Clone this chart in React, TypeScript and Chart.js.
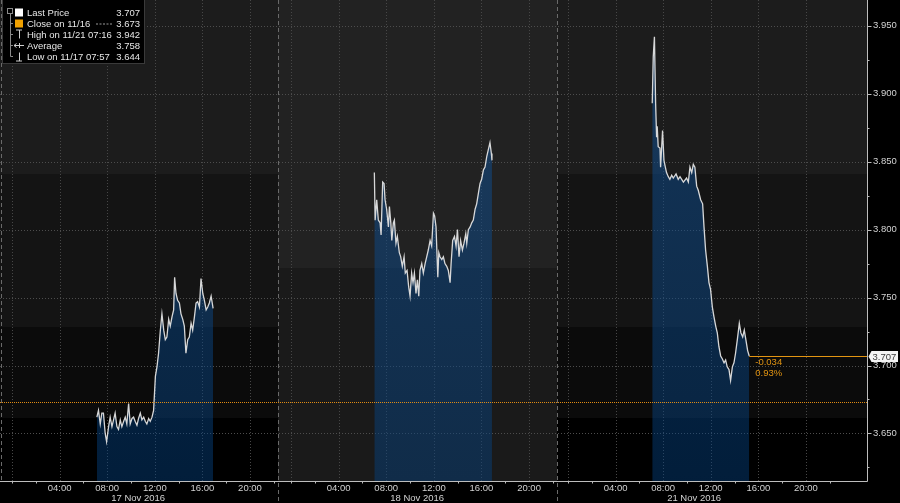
import React, { useEffect, useRef } from 'react';
import { Chart, registerables } from 'chart.js';

Chart.register(...registerables);

const FONT = '"Liberation Sans", Arial, sans-serif';

// ---- axis / session data ----
const dayLabels = ['17 Nov 2016', '18 Nov 2016', '21 Nov 2016'];
const dayStarts = [0, 23.45, 46.72]; // midnight of each session on the compressed hour axis
const sessionBreaks = [22.35, 45.8];
const hourTicks = [4, 8, 12, 16, 20];
const hourGrid = [0, 4, 8, 12, 16, 20];
const hourMinorTicks = [0, 2, 6, 10, 14, 18, 22];
const yTickValues = [3.65, 3.7, 3.75, 3.8, 3.85, 3.9, 3.95];
const dateLabelHour = 10.6;

const X_MIN = -1.008;
const X_MAX = 71.85;
const Y_MIN = 3.615;
const Y_MAX = 3.969;

// ---- series ----
const day1Times = ['07:08','07:16','07:25','07:33','07:41','07:50','07:57','08:07','08:15','08:24','08:32','08:40','08:49','08:57','09:06','09:14','09:23','09:31','09:39','09:48','09:56','10:05','10:13','10:21','10:30','10:38','10:47','10:55','11:04','11:12','11:20','11:29','11:37','11:46','11:54','12:03','12:11','12:19','12:28','12:36','12:45','12:53','13:01','13:10','13:18','13:27','13:35','13:40','13:47','13:55','14:04','14:12','14:21','14:29','14:37','14:46','14:54','15:03','15:11','15:20','15:28','15:36','15:45','15:53','16:02','16:10','16:19','16:27','16:35','16:44','16:54'];
const day1Values = [3.662,3.667,3.657,3.665,3.665,3.650,3.644,3.655,3.662,3.655,3.660,3.665,3.655,3.653,3.660,3.655,3.659,3.662,3.657,3.672,3.657,3.661,3.662,3.659,3.656,3.661,3.665,3.660,3.662,3.659,3.657,3.661,3.659,3.662,3.667,3.692,3.699,3.709,3.726,3.738,3.726,3.719,3.721,3.734,3.729,3.736,3.741,3.765,3.753,3.748,3.746,3.738,3.734,3.729,3.709,3.719,3.721,3.731,3.726,3.736,3.746,3.747,3.743,3.764,3.753,3.748,3.741,3.743,3.746,3.751,3.742];

const day2Times = ['07:00','07:04','07:07','07:12','07:20','07:29','07:34','07:42','07:49','07:54','08:02','08:11','08:16','08:23','08:28','08:36','08:41','08:49','08:56','09:06','09:13','09:21','09:30','09:36','09:45','09:53','10:00','10:08','10:15','10:22','10:30','10:37','10:44','10:50','10:59','11:07','11:16','11:24','11:32','11:41','11:49','11:58','12:04','12:11','12:20','12:25','12:31','12:40','12:48','12:56','13:05','13:13','13:22','13:27','13:35','13:44','13:52','13:59','14:07','14:15','14:24','14:32','14:41','14:46','14:54','15:03','15:11','15:19','15:28','15:36','15:45','15:53','16:01','16:10','16:18','16:27','16:35','16:43','16:50','16:53'];
const day2Values = [3.842,3.807,3.807,3.822,3.807,3.805,3.796,3.835,3.834,3.822,3.815,3.802,3.817,3.805,3.792,3.805,3.807,3.790,3.795,3.783,3.780,3.773,3.780,3.768,3.770,3.758,3.751,3.768,3.761,3.768,3.753,3.763,3.751,3.770,3.775,3.768,3.775,3.780,3.785,3.792,3.788,3.812,3.810,3.802,3.765,3.783,3.780,3.778,3.780,3.775,3.773,3.770,3.761,3.775,3.792,3.795,3.788,3.800,3.780,3.792,3.785,3.790,3.797,3.790,3.800,3.802,3.805,3.807,3.815,3.819,3.827,3.834,3.837,3.844,3.846,3.854,3.859,3.864,3.856,3.851];

const day3Times = ['07:05','07:10','07:16','07:22','07:27','07:30','07:35','07:44','07:47','07:57','08:04','08:11','08:17','08:26','08:34','08:43','08:51','09:05','09:16','09:25','09:42','09:58','10:07','10:15','10:24','10:32','10:40','10:49','10:57','11:09','11:19','11:26','11:34','11:43','11:51','11:59','12:08','12:16','12:25','12:33','12:41','12:50','12:58','13:07','13:15','13:23','13:32','13:40','13:49','13:57','14:05','14:14','14:24','14:32','14:41','14:49','14:57','15:06','15:14'];
const day3Values = [3.893,3.927,3.942,3.893,3.868,3.876,3.861,3.860,3.846,3.873,3.851,3.846,3.842,3.839,3.837,3.840,3.838,3.841,3.837,3.839,3.835,3.838,3.835,3.846,3.842,3.848,3.846,3.832,3.829,3.822,3.819,3.802,3.785,3.773,3.761,3.756,3.743,3.736,3.729,3.724,3.714,3.707,3.705,3.702,3.704,3.699,3.697,3.689,3.699,3.702,3.709,3.719,3.731,3.724,3.721,3.726,3.719,3.711,3.707];

const prevClose = 3.673;
const lastPrice = 3.707;
const netChange = '-0.034';
const pctChange = '0.93%';

const legendLabels = ['Last Price', 'Close on 11/16', 'High on 11/21 07:16', 'Average', 'Low on 11/17 07:57'];
const legendValues = ['3.707', '3.673', '3.942', '3.758', '3.644'];

// background range shading [low, high, colour]
const outerBands: [number, number, string][] = [
  [3.841, 4.0, '#1c1c1c'],
  [3.728, 3.841, '#141414'],
  [3.661, 3.728, '#0b0b0b'],
];
const middleBands: [number, number, string][] = [
  [3.772, 4.0, '#222222'],
  [3.5, 3.772, '#1a1a1a'],
];

const toHour = (t: string) => {
  const [h, m] = t.split(':').map(Number);
  return h + m / 60;
};
const makePoints = (d: number, times: string[], values: number[]) =>
  times.map((t, i) => ({ x: dayStarts[d] + toHour(t), y: values[i] }));

const xTickValues: number[] = [];
const xTickLabels: string[] = [];
dayStarts.forEach((s) => {
  hourTicks.forEach((h) => {
    xTickValues.push(s + h);
    xTickLabels.push(String(h).padStart(2, '0') + ':00');
  });
});

const lastX = dayStarts[2] + toHour(day3Times[day3Times.length - 1]);

const drawPlugin = {
  id: 'bbgDecor',
  beforeDraw(chart: any) {
    const { ctx, chartArea: a, scales } = chart;
    const x = scales.x;
    const y = scales.y;
    ctx.save();
    ctx.fillStyle = '#000';
    ctx.fillRect(0, 0, chart.width, chart.height);

    const panels: [number, number, [number, number, string][]][] = [
      [X_MIN, sessionBreaks[0], outerBands],
      [sessionBreaks[0], sessionBreaks[1], middleBands],
      [sessionBreaks[1], X_MAX, outerBands],
    ];
    panels.forEach(([p0, p1, bands]) => {
      const x0 = Math.max(a.left, Math.round(x.getPixelForValue(p0)));
      const x1 = Math.min(a.right, Math.round(x.getPixelForValue(p1)));
      bands.forEach(([lo, hi, col]) => {
        const yt = Math.max(a.top, Math.round(y.getPixelForValue(hi)));
        const yb = Math.min(a.bottom, Math.round(y.getPixelForValue(lo)));
        if (yb > yt) {
          ctx.fillStyle = col;
          ctx.fillRect(x0, yt, x1 - x0, yb - yt);
        }
      });
    });

    // horizontal grid
    ctx.strokeStyle = '#4d4d4d';
    ctx.lineWidth = 1;
    ctx.setLineDash([1, 2]);
    yTickValues.forEach((v) => {
      const py = Math.round(y.getPixelForValue(v)) + 0.5;
      ctx.beginPath();
      ctx.moveTo(a.left, py);
      ctx.lineTo(a.right, py);
      ctx.stroke();
    });
    // vertical grid
    ctx.strokeStyle = '#474747';
    dayStarts.forEach((s) => {
      hourGrid.forEach((h) => {
        const px = Math.round(x.getPixelForValue(s + h)) + 0.5;
        if (px < a.left || px > a.right) return;
        ctx.beginPath();
        ctx.moveTo(px, a.top);
        ctx.lineTo(px, a.bottom);
        ctx.stroke();
      });
    });
    // session separators
    ctx.strokeStyle = '#6a6a6a';
    ctx.setLineDash([4, 3]);
    [X_MIN + 0.08, ...sessionBreaks].forEach((v, i) => {
      const px = Math.round(x.getPixelForValue(v)) + 0.5;
      ctx.beginPath();
      ctx.moveTo(px, a.top);
      ctx.lineTo(px, i === 0 ? a.bottom : chart.height);
      ctx.stroke();
    });
    ctx.restore();
  },
  afterDatasetsDraw(chart: any) {
    const { ctx, chartArea: a, scales } = chart;
    const x = scales.x;
    const y = scales.y;
    ctx.save();
    // previous close dotted line
    const cy = Math.round(y.getPixelForValue(prevClose)) + 0.5;
    ctx.strokeStyle = '#e08b12';
    ctx.lineWidth = 1;
    ctx.setLineDash([1, 1]);
    ctx.beginPath();
    ctx.moveTo(a.left, cy);
    ctx.lineTo(a.right, cy);
    ctx.stroke();
    // last price line
    const ly = Math.round(y.getPixelForValue(lastPrice)) + 0.5;
    ctx.setLineDash([]);
    ctx.strokeStyle = '#e39512';
    ctx.beginPath();
    ctx.moveTo(x.getPixelForValue(lastX), ly);
    ctx.lineTo(a.right, ly);
    ctx.stroke();
    // change text
    ctx.fillStyle = '#e39512';
    ctx.font = `9.5px ${FONT}`;
    ctx.textBaseline = 'middle';
    ctx.textAlign = 'left';
    const tx = x.getPixelForValue(lastX) + 6;
    ctx.fillText(netChange, tx, ly + 6);
    ctx.fillText(pctChange, tx, ly + 17);
    ctx.restore();
  },
  afterDraw(chart: any) {
    const { ctx, chartArea: a, scales } = chart;
    const x = scales.x;
    const y = scales.y;
    ctx.save();
    // axis lines
    ctx.strokeStyle = '#bdbdbd';
    ctx.lineWidth = 1;
    const bx = Math.round(a.right) + 0.5;
    const by = Math.round(a.bottom) + 0.5;
    ctx.beginPath();
    ctx.moveTo(a.left, by);
    ctx.lineTo(bx, by);
    ctx.moveTo(bx, a.top);
    ctx.lineTo(bx, by);
    ctx.stroke();
    // y ticks (major + minor)
    yTickValues.forEach((v) => {
      const py = Math.round(y.getPixelForValue(v)) + 0.5;
      ctx.beginPath();
      ctx.moveTo(bx, py);
      ctx.lineTo(bx + 4, py);
      ctx.stroke();
      const mv = v - 0.025;
      if (mv > Y_MIN) {
        const my = Math.round(y.getPixelForValue(mv)) + 0.5;
        ctx.beginPath();
        ctx.moveTo(bx, my);
        ctx.lineTo(bx + 2, my);
        ctx.stroke();
      }
    });
    // x minor ticks
    dayStarts.forEach((s) => {
      hourMinorTicks.forEach((h) => {
        const px = Math.round(x.getPixelForValue(s + h)) + 0.5;
        if (px < a.left || px > a.right) return;
        ctx.beginPath();
        ctx.moveTo(px, by);
        ctx.lineTo(px, by + 2);
        ctx.stroke();
      });
    });
    // date labels
    ctx.fillStyle = '#d2d2d2';
    ctx.font = `9.5px ${FONT}`;
    ctx.textAlign = 'center';
    ctx.textBaseline = 'middle';
    dayStarts.forEach((s, i) => {
      ctx.fillText(dayLabels[i], x.getPixelForValue(s + dateLabelHour), 498.5);
    });

    // last price tag on axis
    const ly = Math.round(y.getPixelForValue(lastPrice)) + 0.5;
    ctx.fillStyle = '#f4f4f4';
    ctx.beginPath();
    ctx.moveTo(bx + 1, ly);
    ctx.lineTo(bx + 4, ly - 5.5);
    ctx.lineTo(898, ly - 5.5);
    ctx.lineTo(898, ly + 5.5);
    ctx.lineTo(bx + 4, ly + 5.5);
    ctx.closePath();
    ctx.fill();
    ctx.fillStyle = '#3a3a3a';
    ctx.textAlign = 'left';
    ctx.fillText(lastPrice.toFixed(3), bx + 5, ly + 0.5);

    // legend box
    ctx.fillStyle = '#000';
    ctx.fillRect(2, 0, 143, 64);
    ctx.strokeStyle = '#3a3a3a';
    ctx.strokeRect(2.5, -0.5, 142, 64);
    const rows = [12.5, 23.5, 34.5, 45.5, 56.5];
    // tree
    ctx.strokeStyle = '#8a8a8a';
    ctx.strokeRect(7.5, 8.5, 5, 5);
    ctx.beginPath();
    ctx.moveTo(10.5, 14);
    ctx.lineTo(10.5, rows[4]);
    rows.slice(1).forEach((r) => {
      ctx.moveTo(10.5, r);
      ctx.lineTo(13, r);
    });
    ctx.stroke();
    // icons
    ctx.fillStyle = '#ffffff';
    ctx.fillRect(15, rows[0] - 4, 8, 8);
    ctx.fillStyle = '#f0a000';
    ctx.fillRect(15, rows[1] - 4, 8, 8);
    ctx.strokeStyle = '#cfcfcf';
    ctx.beginPath();
    ctx.moveTo(16, rows[2] - 4.5);
    ctx.lineTo(22, rows[2] - 4.5);
    ctx.moveTo(19.5, rows[2] - 4.5);
    ctx.lineTo(19.5, rows[2] + 4);
    ctx.moveTo(14, rows[3]);
    ctx.lineTo(24, rows[3]);
    ctx.moveTo(19.5, rows[3] - 2.5);
    ctx.lineTo(19.5, rows[3] + 2.5);
    ctx.moveTo(14, rows[3]);
    ctx.lineTo(16.5, rows[3] - 2);
    ctx.moveTo(14, rows[3]);
    ctx.lineTo(16.5, rows[3] + 2);
    ctx.moveTo(19.5, rows[4] - 4);
    ctx.lineTo(19.5, rows[4] + 4.5);
    ctx.moveTo(16, rows[4] + 4.5);
    ctx.lineTo(22, rows[4] + 4.5);
    ctx.stroke();
    // dashes for close row
    ctx.setLineDash([2, 1.5]);
    ctx.strokeStyle = '#9a9a9a';
    ctx.beginPath();
    ctx.moveTo(96, rows[1] + 0.5);
    ctx.lineTo(113, rows[1] + 0.5);
    ctx.stroke();
    ctx.setLineDash([]);
    // texts
    ctx.fillStyle = '#e6e6e6';
    ctx.font = `9.5px ${FONT}`;
    ctx.textBaseline = 'middle';
    legendLabels.forEach((l, i) => {
      ctx.textAlign = 'left';
      ctx.fillText(l, 27, rows[i] + 0.5);
      ctx.textAlign = 'right';
      ctx.fillText(legendValues[i], 140, rows[i] + 0.5);
    });
    ctx.restore();
  },
};

export default function App() {
  const ref = useRef<HTMLCanvasElement | null>(null);
  useEffect(() => {
    document.body.style.margin = '0';
    document.body.style.background = '#000';
    const canvas = ref.current;
    if (!canvas) return;
    const fillFn = (c: any) => {
      const chart = c.chart;
      const a = chart.chartArea;
      if (!a) return 'rgba(8,70,135,0.45)';
      const g = chart.ctx.createLinearGradient(0, a.top, 0, a.bottom);
      g.addColorStop(0, 'rgba(20,85,155,0.52)');
      g.addColorStop(1, 'rgba(4,66,130,0.45)');
      return g;
    };
    const ds = (pts: any[]) => ({
      data: pts,
      borderColor: 'rgba(225,225,225,0.95)',
      borderWidth: 1.3,
      pointRadius: 0,
      tension: 0,
      fill: 'start',
      backgroundColor: fillFn,
    });
    const chart = new Chart(canvas, {
      type: 'line',
      data: {
        datasets: [
          ds(makePoints(0, day1Times, day1Values)),
          ds(makePoints(1, day2Times, day2Values)),
          ds(makePoints(2, day3Times, day3Values)),
        ],
      },
      options: {
        responsive: false,
        animation: false,
        devicePixelRatio: 1,
        layout: { padding: 0 },
        plugins: { legend: { display: false }, tooltip: { enabled: false } },
        scales: {
          x: {
            type: 'linear',
            min: X_MIN,
            max: X_MAX,
            grid: { display: false, drawTicks: false },
            border: { display: false },
            ticks: {
              autoSkip: false,
              maxRotation: 0,
              minRotation: 0,
              padding: 2,
              color: '#d2d2d2',
              font: { family: FONT, size: 9.5 },
              callback: (_v: any, i: number) => xTickLabels[i],
            },
            afterBuildTicks: (s: any) => {
              s.ticks = xTickValues.map((v) => ({ value: v }));
            },
            afterFit: (s: any) => {
              s.height = 22;
              s.paddingLeft = 0;
              s.paddingRight = 0;
            },
          },
          y: {
            type: 'linear',
            position: 'right',
            min: Y_MIN,
            max: Y_MAX,
            grid: { display: false, drawTicks: false },
            border: { display: false },
            ticks: {
              padding: 6,
              color: '#d2d2d2',
              font: { family: FONT, size: 9.5 },
              callback: (v: any) => Number(v).toFixed(3),
            },
            afterBuildTicks: (s: any) => {
              s.ticks = yTickValues.map((v) => ({ value: v }));
            },
            afterFit: (s: any) => {
              s.width = 33;
              s.paddingTop = 0;
              s.paddingBottom = 0;
            },
          },
        },
      } as any,
      plugins: [drawPlugin],
    });
    return () => chart.destroy();
  }, []);
  return <canvas ref={ref} width={900} height={503} style={{ display: 'block' }} />;
}
